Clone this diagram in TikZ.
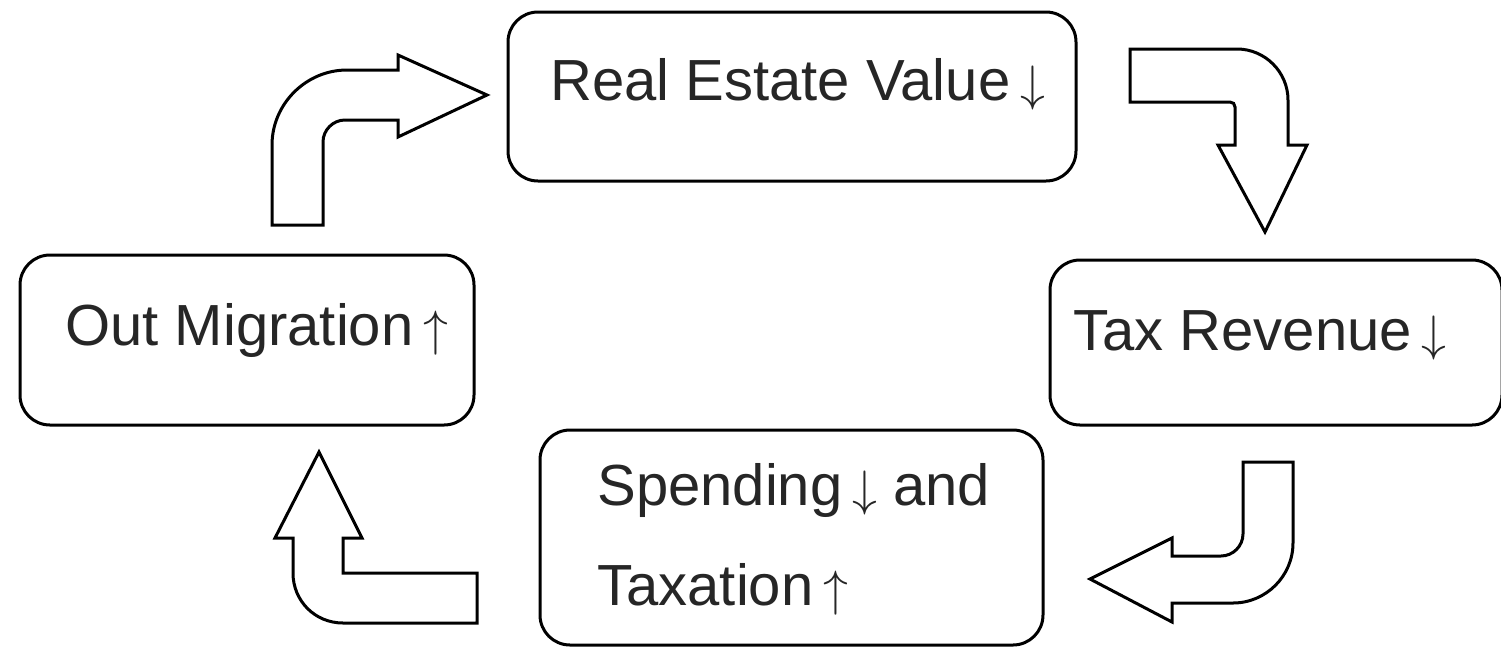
\documentclass[tikz,border=0pt]{standalone}
\usepackage{fontspec}
\setmainfont{Liberation Sans}
\usetikzlibrary{calc, positioning}

\newcommand{\arrdown}{\,$\downarrow$}
\newcommand{\arrup}{\,$\uparrow$}

\begin{document}
\begin{tikzpicture}[x=0.5pt, y=-0.5pt,
        box/.style={draw, line width=1.5pt, rounded corners=15pt},
        txt/.style={font=\fontsize{29}{50}\selectfont, text=black!85, inner sep=0pt, align=left},
        blockarrow/.style={draw, line width=1.5pt, fill=white, line join=miter}]

        \useasboundingbox (0,0) rectangle (1501,650);

        % the four boxes of the cycle
        \node[box, minimum width=284pt, minimum height=84.5pt] (realestate) at (792,96.5) {};
        \node[box, minimum width=227pt, minimum height=85pt] (outmig) at (247,340) {};
        \node[box, minimum width=226pt, minimum height=82.5pt] (taxrev) at (1276,342.5) {};
        \node[box, minimum width=251.5pt, minimum height=107.5pt] (spending) at (791.5,537.5) {};

        \node[txt, anchor=base west] (realestate text) at (550,100) {Real Estate Value\arrdown};
        \node[txt, anchor=base west] (outmig text) at (65,345) {Out Migration\arrup};
        \node[txt, anchor=base west] (taxrev text) at (1073,350) {Tax Revenue\arrdown};
        \node[txt, anchor=base west] (spending text) at (597,605) {Spending\arrdown{} and\\Taxation\arrup};

        % bent block arrows between the boxes
        \draw[blockarrow] (272,225) -- (272,145) .. controls (272,104) and (306,70) .. (347,70)
            -- (398,70) -- (398,55) -- (487,95) -- (398,137) -- (398,120) -- (345,120)
            .. controls (333,120) and (323,130) .. (323,142) -- (323,225) -- cycle;

        \draw[blockarrow] (1130,49) -- (1237,49) .. controls (1265,49) and (1288,72) .. (1288,100)
            -- (1288,145) -- (1307,145) -- (1265,232) -- (1218,145) -- (1235,145) -- (1235,107)
            .. controls (1235,104) and (1233,102) .. (1230,102) -- (1130,102) -- cycle;

        \draw[blockarrow] (1243,462) -- (1293,462) -- (1293,543) .. controls (1293,576) and (1266,603) .. (1233,603)
            -- (1172,603) -- (1172,622) -- (1090,579) -- (1172,538) -- (1172,556) -- (1221,556)
            .. controls (1233,556) and (1243,546) .. (1243,534) -- cycle;

        \draw[blockarrow] (477,573) -- (477,623) -- (343,623) .. controls (315,623) and (293,601) .. (293,573)
            -- (293,538) -- (275,538) -- (319,452) -- (362,538) -- (343,538) -- (343,573) -- cycle;

\end{tikzpicture}
\end{document}
